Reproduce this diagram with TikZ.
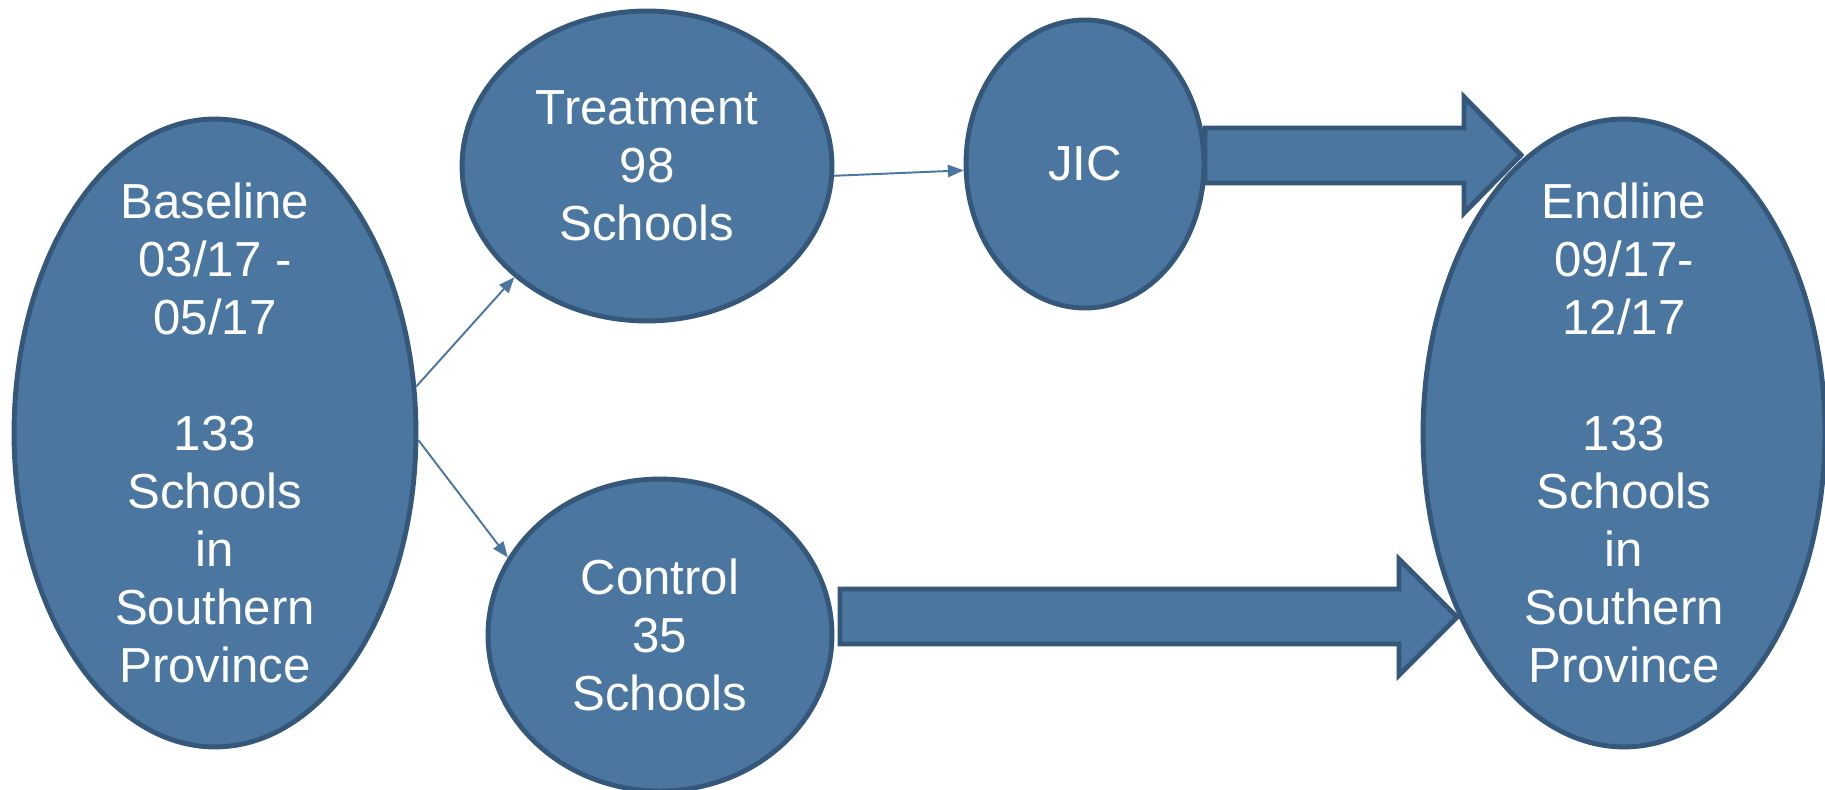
\documentclass[tikz,border=0pt]{standalone}
\usepackage{fontspec}
\setmainfont{Liberation Sans}
\usetikzlibrary{arrows.meta, shapes.geometric}
\definecolor{ovalfill}{HTML}{4A76A0}
\definecolor{ovalline}{HTML}{34577A}
\begin{document}
\begin{tikzpicture}[
    x=0.02cm, y=-0.02cm,
    oval/.style={ellipse, draw=ovalline, line width=2.8pt, fill=ovalfill, inner sep=0pt},
    oval text/.style={text=white, align=center, inner sep=0pt, font=\fontsize{28}{33}\selectfont},
    thin arrow/.style={-{Triangle[length=9pt,width=7pt]}, draw=ovalfill, line width=1.1pt},
    block arrow/.style={draw=ovalline, line width=2.8pt, fill=ovalfill, line join=miter}
]
    \useasboundingbox (0,0) rectangle (1825,790);

    % Ellipses
    \node[oval, minimum width=8.04cm, minimum height=12.56cm,
        label={[oval text]center:Baseline\\03/17 -\\05/17\\[33pt]133\\Schools\\in\\Southern\\Province}] (base) at (215,433) {};
    \node[oval, minimum width=7.4cm, minimum height=6.2cm,
        label={[oval text]center:Treatment\\98\\Schools}] (treat) at (647,166) {};
    \node[oval, minimum width=4.76cm, minimum height=5.76cm,
        label={[oval text]center:JIC}] (jic) at (1085,164) {};
    \node[oval, minimum width=6.88cm, minimum height=6.24cm,
        label={[oval text]center:Control\\35\\Schools}] (ctrl) at (660,635) {};
    \node[oval, minimum width=8.04cm, minimum height=12.56cm,
        label={[oval text]center:Endline\\09/17-\\12/17\\[33pt]133\\Schools\\in\\Southern\\Province}] (end) at (1624,433) {};

    % Thin arrows
    \draw[thin arrow] (base.13) -- (treat.220);
    \draw[thin arrow] (base.358) -- (ctrl.153);
    \draw[thin arrow] (treat.357) -- (jic.183);

    % Block arrows
    \draw[block arrow] (1205,128) -- (1464,128) -- (1464,97) -- (1521,155) -- (1464,213) -- (1464,183) -- (1205,183) -- cycle;
    \draw[block arrow] (840,589) -- (1399,589) -- (1399,559) -- (1457,617) -- (1399,675) -- (1399,644) -- (840,644) -- cycle;
\end{tikzpicture}
\end{document}
